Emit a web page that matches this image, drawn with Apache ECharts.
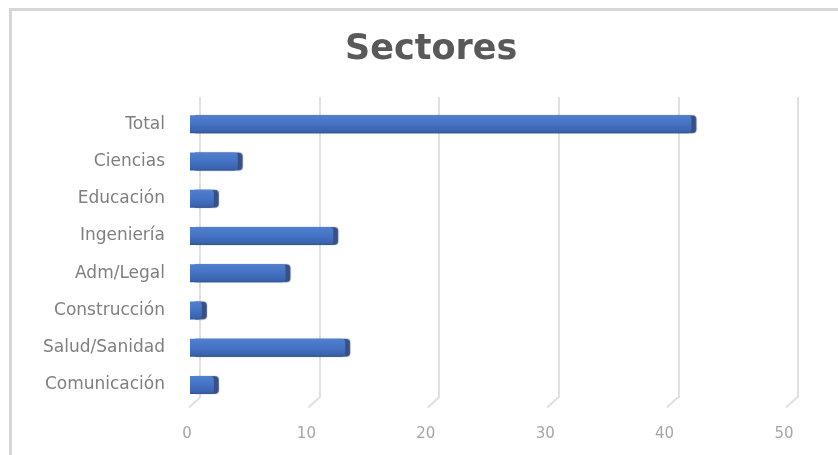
<!DOCTYPE html>
<html>
<head>
<meta charset="utf-8">
<script src="https://cdn.jsdelivr.net/npm/echarts@6/dist/echarts.min.js"></script>
<style>
html,body{margin:0;padding:0;background:#fff;}
#chart{width:838px;height:455px;}
</style>
</head>
<body>
<div id="chart"></div>
<script>
const categories = ["Total","Ciencias","Educación","Ingeniería","Adm/Legal","Construcción","Salud/Sanidad","Comunicación"];
const values = [42, 4, 2, 12, 8, 1, 13, 2];
const xTicks = [0, 10, 20, 30, 40, 50];
const titleText = "Sectores";

const chart = echarts.init(document.getElementById('chart'));
const option = {
  backgroundColor: '#ffffff',
  animation: false,
  title: {
    text: titleText,
    left: 340,
    top: 27,
    textStyle: {fontFamily: 'DejaVu Sans', fontWeight: 'bold', fontSize: 35, color: '#595959'}
  },
  graphic: [
    {type: 'line', shape: {x1: 10, y1: 9.5, x2: 838, y2: 9.5}, style: {stroke: '#d6d6d6', lineWidth: 3}},
    {type: 'line', shape: {x1: 10.5, y1: 8, x2: 10.5, y2: 455}, style: {stroke: '#d6d6d6', lineWidth: 3}}
  ],
  grid: [
    {left: 190, width: 597, top: 105.5, height: 298, containLabel: false},
    {left: 200, width: 598, top: 97, height: 301, containLabel: false}
  ],
  xAxis: [
    {
      type: 'value', gridIndex: 0, min: xTicks[0], max: xTicks[xTicks.length-1], interval: 10,
      axisLine: {show: false}, axisTick: {show: false}, splitLine: {show: false},
      axisLabel: {color: '#a6a6a6', fontFamily: 'DejaVu Sans', fontSize: 15, margin: 23, padding: [0, 6, 0, 0]}
    },
    {
      type: 'value', gridIndex: 1, min: xTicks[0], max: xTicks[xTicks.length-1], interval: 10,
      axisLine: {show: false}, axisTick: {show: false}, axisLabel: {show: false},
      splitLine: {show: true, lineStyle: {color: '#e0e0e0', width: 2}}
    }
  ],
  yAxis: [
    {
      type: 'category', gridIndex: 0, data: categories, inverse: true,
      axisLine: {show: false}, axisTick: {show: false},
      axisLabel: {color: '#7f7f7f', fontFamily: 'DejaVu Sans', fontSize: 17, margin: 25}
    },
    {
      type: 'category', gridIndex: 1, data: categories, inverse: true, show: false
    }
  ],
  series: [
    {
      type: 'custom',
      xAxisIndex: 0, yAxisIndex: 0,
      data: xTicks.map(v => [v, 0]),
      silent: true,
      z: 1,
      renderItem: function (params, api) {
        const p = api.coord([api.value(0), categories[0]]);
        const bottom = params.coordSys.y + params.coordSys.height;
        return {
          type: 'line',
          shape: {x1: p[0] + 10, y1: bottom - 6, x2: p[0] - 1, y2: bottom + 4},
          style: {stroke: '#e0e0e0', lineWidth: 2}
        };
      }
    },
    {
      type: 'bar',
      xAxisIndex: 0, yAxisIndex: 0,
      data: values,
      barWidth: 18,
      z: 5,
      itemStyle: {
        color: new echarts.graphic.LinearGradient(0, 0, 0, 1, [
          {offset: 0, color: '#5080d0'},
          {offset: 0.5, color: '#4472c4'},
          {offset: 0.9, color: '#3a63ad'},
          {offset: 1, color: '#2f5597'}
        ]),
        borderWidth: 0,
        borderRadius: [0, 4, 4, 0],
        shadowColor: 'rgba(35,60,120,0.9)',
        shadowOffsetX: 5,
        shadowOffsetY: 0,
        shadowBlur: 1
      }
    }
  ]
};
chart.setOption(option);
</script>
</body>
</html>
